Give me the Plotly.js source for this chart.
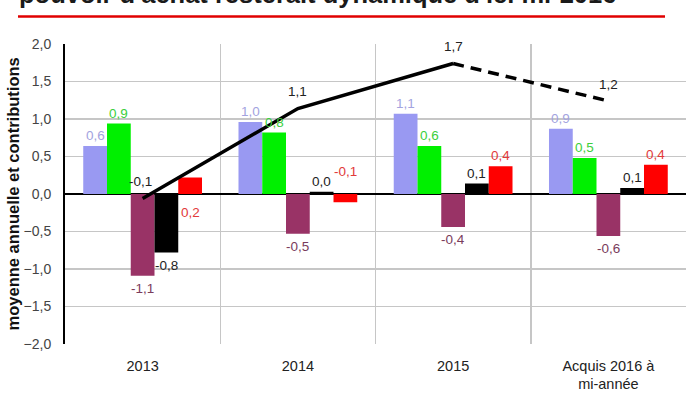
<!DOCTYPE html>
<html>
<head>
<meta charset="utf-8">
<script src="https://cdn.plot.ly/plotly-3.0.1.min.js"></script>
<style>html,body{margin:0;padding:0;background:#fff;}#chart{width:700px;height:394px;}</style>
</head>
<body>
<div id="chart"></div>
<script>
// ---- data ----
const categories = ['2013', '2014', '2015', 'Acquis 2016 à<br>mi-année'];
const seriesNames = ['Masse salariale', 'Prestations sociales', 'Prélèvements', 'Revenus du patrimoine', 'Revenus des EI'];
const lavenderVals = [0.64, 0.96, 1.07, 0.87];
const greenVals = [0.94, 0.82, 0.64, 0.48];
const maroonVals = [-1.09, -0.53, -0.44, -0.56];
const blackVals = [-0.78, 0.03, 0.14, 0.08];
const redVals = [0.22, -0.11, 0.37, 0.39];
const lineVals = [-0.06, 1.14, 1.74, 1.24];
const lineName = 'Pouvoir d\'achat';
const titleText = 'pouvoir d\'achat resterait dynamique d\'ici mi-2016';
const yTitleText = 'moyenne annuelle et contributions';

// ---- styles ----
const barColors = ['#9999f2', '#00f000', '#993366', '#000000', '#ff0000'];
const labelColors = ['#a3a3e0', '#3ccf3c', '#7a3c5c', '#222222', '#e23a3a'];
// label side override for the red series ('auto' = by sign)
const redLabelSide = ['zeroBelow', 'zeroAbove', 'auto', 'auto'];

const FONT = 'Liberation Sans, Arial, sans-serif';
const allSeries = [lavenderVals, greenVals, maroonVals, blackVals, redVals];
const bargap = 0.235;
const bw = (1 - bargap) / allSeries.length;
const fmt = v => v.toFixed(1).replace('.', ',');

const traces = allSeries.map((vals, j) => ({
  type: 'bar', name: seriesNames[j], x: categories, y: vals,
  marker: {color: barColors[j], line: {width: 0}}, hoverinfo: 'none'
}));

traces.push({
  type: 'scatter', mode: 'lines', name: lineName,
  x: categories.slice(0, 3), y: lineVals.slice(0, 3),
  line: {color: '#000', width: 3.5}, hoverinfo: 'none'
});
traces.push({
  type: 'scatter', mode: 'lines', name: lineName + ' (prévision)',
  x: categories.slice(2, 4), y: lineVals.slice(2, 4),
  line: {color: '#000', width: 3.5, dash: '11px,7px'}, hoverinfo: 'none'
});

const annotations = [];
allSeries.forEach((vals, j) => {
  vals.forEach((v, i) => {
    let side = v >= 0 ? 'above' : 'below';
    let yv = v;
    let shift = v >= 0 ? 1 : -3;
    if (j === 4 && redLabelSide[i] !== 'auto') {
      yv = 0;
      if (redLabelSide[i] === 'zeroBelow') { side = 'below'; shift = -9; }
      else { side = 'above'; shift = 13; }
    }
    annotations.push({
      xref: 'x', yref: 'y', x: i + (j - (allSeries.length - 1) / 2) * bw, y: yv,
      text: fmt(v), showarrow: false,
      yanchor: side === 'above' ? 'bottom' : 'top', yshift: shift,
      font: {family: FONT, size: 13.5, color: labelColors[j]}
    });
  });
});
lineVals.forEach((v, i) => {
  annotations.push({
    xref: 'x', yref: 'y', x: i, y: v, text: fmt(v), showarrow: false,
    yanchor: 'middle', yshift: 17, xshift: i === 0 ? -2 : 0,
    font: {family: FONT, size: 13.5, color: '#222'}
  });
});
// title (cut off at top, as in the reference) and y-axis title
annotations.push({
  xref: 'paper', yref: 'paper', x: -0.078, y: 1.113, xanchor: 'left', yanchor: 'bottom',
  text: '<b>' + titleText + '</b>', showarrow: false,
  font: {family: FONT, size: 25.5, color: '#1a1a1a'}
});
annotations.push({
  xref: 'paper', yref: 'paper', x: -0.083, y: 0.5, xanchor: 'center', yanchor: 'middle',
  text: '<b>' + yTitleText + '</b>', textangle: -90, showarrow: false,
  font: {family: FONT, size: 16.5, color: '#111'}
});

const layout = {
  width: 700, height: 394,
  margin: {l: 65, r: 14, t: 44, b: 50},
  paper_bgcolor: '#fff', plot_bgcolor: '#fff',
  showlegend: false,
  barmode: 'group', bargap: bargap, bargroupgap: 0,
  separators: ', ',
  font: {family: FONT, size: 13, color: '#333'},
  xaxis: {
    type: 'category', range: [-0.5, 3.5], tickson: 'boundaries',
    showgrid: true, gridcolor: '#c6c6c6', gridwidth: 1.5,
    ticks: '', showline: false, zeroline: false,
    tickfont: {family: FONT, size: 14.5, color: '#222'}, ticklabelstandoff: 11,
    fixedrange: true
  },
  yaxis: {
    range: [-2, 2], dtick: 0.5, tickformat: '.1f',
    showgrid: true, gridcolor: '#c6c6c6', gridwidth: 1.5,
    zeroline: true, zerolinecolor: '#000', zerolinewidth: 2,
    showline: true, linecolor: '#000', linewidth: 2,
    ticks: '', ticklabelstandoff: 9,
    tickfont: {family: FONT, size: 14, color: '#444'},
    fixedrange: true
  },
  shapes: [{
    type: 'line', xref: 'paper', yref: 'paper', layer: 'above',
    x0: -0.0757, x1: 0.9662, y0: 1.0917, y1: 1.0917,
    line: {color: '#e00000', width: 2.5}
  }],
  annotations: annotations
};

Plotly.newPlot('chart', traces, layout, {staticPlot: true, displayModeBar: false});
</script>
</body>
</html>
